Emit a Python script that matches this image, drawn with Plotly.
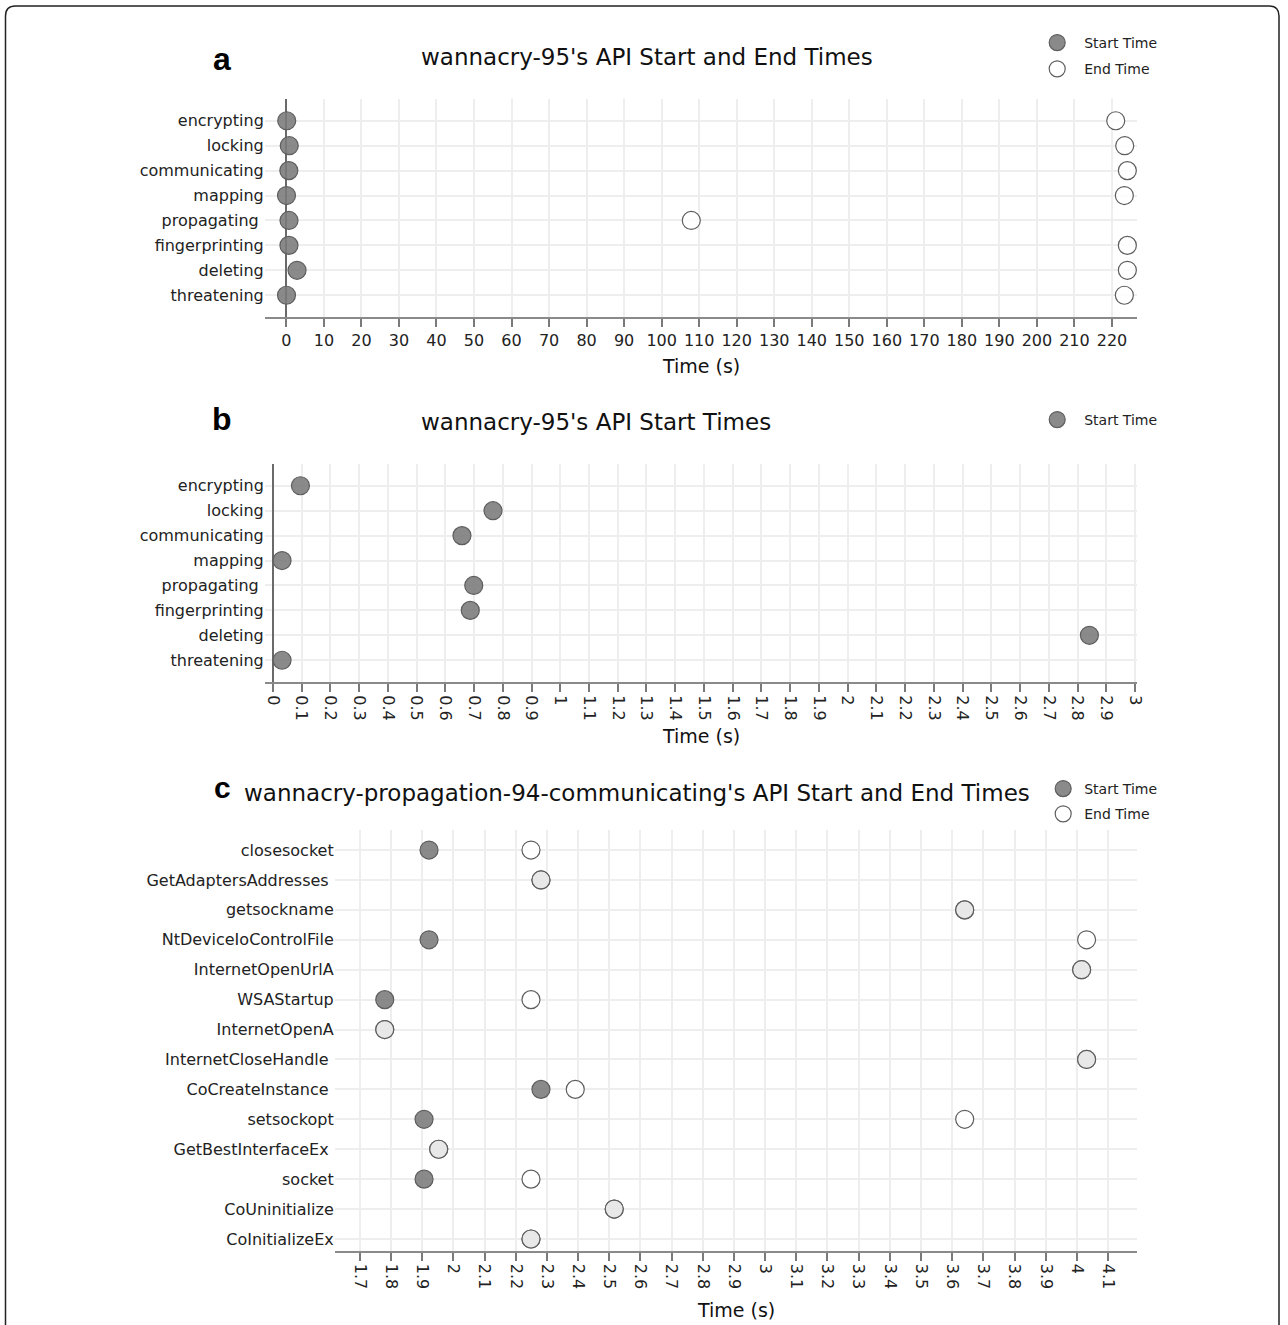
import plotly.graph_objects as go

W, H = 1288, 1325
XS = 1280  # the snapshot squeezes the 1288px page into 1280px horizontally

# ---------------- data ----------------
ab_categories = ["encrypting", "locking", "communicating", "mapping",
                 "propagating\u00a0", "fingerprinting", "deleting", "threatening"]
a_start = [0.096, 0.766, 0.658, 0.032, 0.699, 0.687, 2.841, 0.032]
a_end = [221.0, 223.4, 224.1, 223.3, 107.9, 224.1, 224.1, 223.3]
b_start = [0.096, 0.766, 0.658, 0.032, 0.699, 0.687, 2.841, 0.032]

c_categories = ["closesocket", "GetAdaptersAddresses\u00a0", "getsockname",
                "NtDeviceIoControlFile", "InternetOpenUrlA", "WSAStartup",
                "InternetOpenA", "InternetCloseHandle\u00a0", "CoCreateInstance\u00a0",
                "setsockopt", "GetBestInterfaceEx\u00a0", "socket",
                "CoUninitialize", "CoInitializeEx"]
c_start = [1.922, 2.281, 3.640, 1.922, 4.015, 1.780, 1.780, 4.031, 2.281,
           1.906, 1.953, 1.906, 2.516, 2.249]
c_end = [2.249, 2.281, 3.640, 4.031, 4.015, 2.249, 1.780, 4.031, 2.391,
         3.640, 1.953, 2.249, 2.516, 2.249]

titles = ["wannacry-95's API Start and End Times",
          "wannacry-95's API Start Times",
          "wannacry-propagation-94-communicating's API Start and End Times"]
panel_letters = ["a", "b", "c"]
x_title = "Time (s)"

# ---------------- helpers (screen pixels -> paper fractions) ----------------
def px(x):
    return min(x / XS, 0.9995)

def py(y):
    return 1 - y / H

FONT = "DejaVu Sans"
START_MARKER = dict(size=18, color="rgba(122,122,122,0.88)",
                    line=dict(color="#5e5e5e", width=1.2))
END_MARKER = dict(size=18, color="rgba(255,255,255,0.8)",
                  line=dict(color="#5e5e5e", width=1.2))

fig = go.Figure()

fig.add_trace(go.Scatter(x=a_start, y=ab_categories, mode="markers", name="Start Time",
                         marker=START_MARKER, xaxis="x", yaxis="y", legend="legend",
                         legendgroup="a_s"))
fig.add_trace(go.Scatter(x=a_end, y=ab_categories, mode="markers", name="End Time",
                         marker=END_MARKER, xaxis="x", yaxis="y", legend="legend",
                         legendgroup="a_e"))
fig.add_trace(go.Scatter(x=b_start, y=ab_categories, mode="markers", name="Start Time",
                         marker=START_MARKER, xaxis="x2", yaxis="y2", legend="legend2",
                         legendgroup="b_s"))
fig.add_trace(go.Scatter(x=c_start, y=c_categories, mode="markers", name="Start Time",
                         marker=START_MARKER, xaxis="x3", yaxis="y3", legend="legend3",
                         legendgroup="c_s"))
fig.add_trace(go.Scatter(x=c_end, y=c_categories, mode="markers", name="End Time",
                         marker=END_MARKER, xaxis="x3", yaxis="y3", legend="legend3",
                         legendgroup="c_e"))

GRID = "#eeeeee"

def xaxis_common(**kw):
    d = dict(showgrid=True, gridcolor=GRID, gridwidth=2,
             showline=True, linecolor="#8a8a8a", linewidth=2,
             ticks="outside", ticklen=8, tickwidth=2, tickcolor="#7a7a7a",
             tickfont=dict(family=FONT, size=16, color="#222"),
             zeroline=True, zerolinecolor="#6a6a6a", zerolinewidth=2,
             fixedrange=True)
    d.update(kw)
    return d

def yaxis_common(**kw):
    d = dict(type="category", showgrid=True, gridcolor=GRID, gridwidth=2,
             showline=False, ticks="", zeroline=False,
             tickfont=dict(family=FONT, size=16, color="#222"), fixedrange=True)
    d.update(kw)
    return d

LEG_FONT = dict(family=FONT, size=14, color="#222")

fig.update_layout(
    width=W, height=H,
    margin=dict(l=0, r=0, t=0, b=0),
    paper_bgcolor="white", plot_bgcolor="white",
    font=dict(family=FONT, color="#222"),
    xaxis=xaxis_common(domain=[px(264), px(1137)], range=[-5.75, 226.7],
                       tick0=0, dtick=10, anchor="y"),
    yaxis=yaxis_common(domain=[py(317), py(99)], range=[7.873, -0.873],
                       categoryarray=ab_categories, categoryorder="array", anchor="x"),
    xaxis2=xaxis_common(domain=[px(264), px(1137)], range=[-0.028, 3.007],
                        tick0=0, dtick=0.1, tickangle=90, anchor="y2"),
    yaxis2=yaxis_common(domain=[py(682), py(464)], range=[7.873, -0.873],
                        categoryarray=ab_categories, categoryorder="array", anchor="x2"),
    xaxis3=xaxis_common(domain=[px(334), px(1137)], range=[1.6196, 4.193],
                        tick0=1.7, dtick=0.1, tickangle=90, anchor="y3"),
    yaxis3=yaxis_common(domain=[py(1250.5), py(830)], range=[13.385, -0.67],
                        categoryarray=c_categories, categoryorder="array", anchor="x3"),
    legend=dict(x=px(1030), y=py(27), xanchor="left", yanchor="top",
                font=LEG_FONT, bgcolor="rgba(0,0,0,0)",
                itemwidth=44, traceorder="grouped", tracegroupgap=5),
    legend2=dict(x=px(1030), y=py(404), xanchor="left", yanchor="top",
                 font=LEG_FONT, bgcolor="rgba(0,0,0,0)", itemwidth=44),
    legend3=dict(x=px(1042), y=py(773), xanchor="left", yanchor="top",
                 font=LEG_FONT, bgcolor="rgba(0,0,0,0)",
                 itemwidth=32, traceorder="grouped", tracegroupgap=4),
    showlegend=True,
)

annotations = []
title_pos = [(418, 57), (418, 422), (241, 793)]
for t, (x, y) in zip(titles, title_pos):
    annotations.append(dict(text=t, x=px(x), y=py(y), xref="paper", yref="paper",
                            xanchor="left", yanchor="middle", showarrow=False,
                            font=dict(family=FONT, size=23, color="#111")))
letter_pos = [(221, 59, 32), (221, 419, 32), (222, 787, 30)]
for l, (x, y, s) in zip(panel_letters, letter_pos):
    annotations.append(dict(text="<b>" + l + "</b>", x=px(x), y=py(y), xref="paper",
                            yref="paper", xanchor="center", yanchor="middle",
                            showarrow=False,
                            font=dict(family="Liberation Sans", size=s, color="#000")))
xt_pos = [(701, 366), (701, 736), (736, 1310)]
for (x, y) in xt_pos:
    annotations.append(dict(text=x_title, x=px(x), y=py(y), xref="paper", yref="paper",
                            xanchor="center", yanchor="middle", showarrow=False,
                            font=dict(family=FONT, size=19, color="#111")))
fig.update_layout(annotations=annotations)

# rounded frame around the figure
x0, x1 = px(4.5), px(1279)
yt = py(6)
rx, ry = 10 / XS, 10 / H
path = (f"M {x0},{-0.05} L {x0},{yt - ry} Q {x0},{yt} {x0 + rx},{yt} "
        f"L {x1 - rx},{yt} Q {x1},{yt} {x1},{yt - ry} L {x1},{-0.05}")
fig.add_shape(type="path", path=path, xref="paper", yref="paper",
              line=dict(color="#222", width=1.5))

fig.write_html(
    "out.html",
    config={"displayModeBar": False},
    post_script=("document.body.style.margin='0';"
                 "document.documentElement.style.overflow='hidden';"
                 "document.body.style.overflow='hidden';"),
)
